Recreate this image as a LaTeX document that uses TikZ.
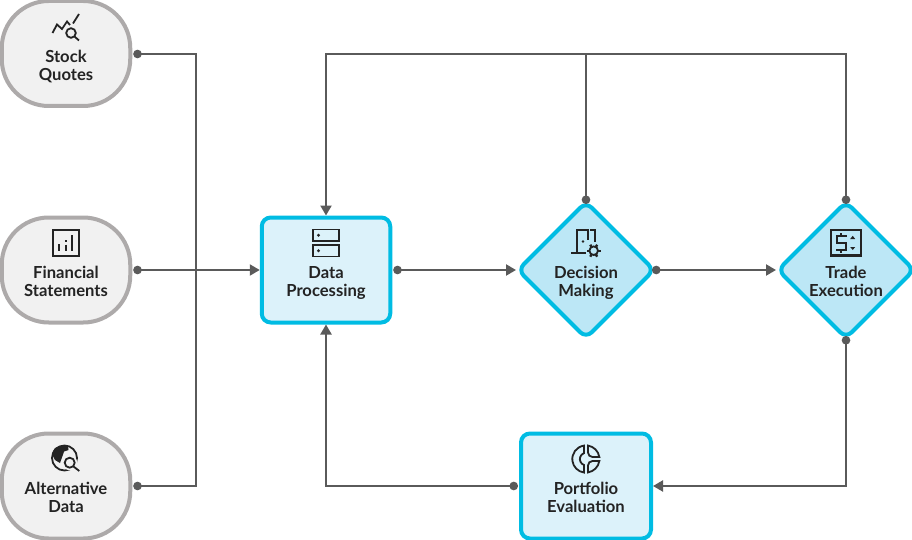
\documentclass[tikz,border=0pt]{standalone}
\usepackage{fontspec}
\setmainfont{Lato}[BoldFont={Lato Bold}]
\usetikzlibrary{arrows.meta,shapes.geometric}
\definecolor{srcfill}{HTML}{F1F1F1}
\definecolor{srcline}{HTML}{ADAAAA}
\definecolor{cyanline}{HTML}{00BCE3}
\definecolor{boxfill}{HTML}{DCF2FA}
\definecolor{diafill}{HTML}{BCE7F6}
\definecolor{flowcol}{HTML}{5A5A5A}
\definecolor{inkcol}{HTML}{232323}
\tikzset{
  srcnode/.style={rectangle,draw=srcline,fill=srcfill,line width=4pt,rounded corners=47pt,minimum width=128.5pt,minimum height=105pt,inner sep=0pt},
  boxnode/.style={rectangle,draw=cyanline,fill=boxfill,line width=4pt,rounded corners=9pt,minimum width=128.5pt,minimum height=105pt,inner sep=0pt},
  dianode/.style={diamond,aspect=1,draw=cyanline,fill=diafill,line width=4pt,rounded corners=8pt,minimum width=136pt,minimum height=136pt,inner sep=0pt,outer sep=0pt},
  lbl/.style={font=\fontsize{16.6}{18.6}\selectfont\bfseries,text=inkcol,align=center,inner sep=0pt,execute at begin node=\strut,execute at end node=\strut},
  flow/.style={draw=flowcol,line width=2.2pt,{Circle[length=8.5pt]}-{Triangle[length=10pt,width=11pt]},shorten <=1pt},
  plainflow/.style={draw=flowcol,line width=2.2pt,{Circle[length=8.5pt]}-,shorten <=1pt},
  fromdia/.style={shorten <=-2pt},
  todia/.style={shorten >=2pt},
  ico/.style={draw=inkcol,line width=1.8pt},
  icofill/.style={fill=inkcol}
}
\begin{document}
\begin{tikzpicture}[x=1pt,y=-1pt]
\useasboundingbox (0,0) rectangle (912,540);
% nodes
\node[srcnode] (stock) at (66,53.5) {};
\node[srcnode] (fin) at (66,270) {};
\node[srcnode] (alt) at (66,486) {};
\node[boxnode] (data) at (326,270) {};
\node[dianode] (dec) at (586,270) {};
\node[dianode] (trade) at (846,270) {};
\node[boxnode,minimum width=130pt] (port) at (586,486) {};
% labels
\node[lbl] (stockL) at (66,68.3) {Stock\\Quotes};
\node[lbl] (finL) at (66,284.3) {Financial\\Statements};
\node[lbl] (altL) at (66,500.3) {Alternative\\Data};
\node[lbl] (dataL) at (326,284.3) {Data\\Processing};
\node[lbl] (decL) at (586,284.3) {Decision\\Making};
\node[lbl] (tradeL) at (846,284.3) {Trade\\Execution};
\node[lbl] (portL) at (586,500.3) {Portfolio\\Evaluation};
% junctions
\coordinate (bus) at (196,270);
\coordinate (topj) at (586,54);
\coordinate (topl) at (326,54);
% connectors
\draw[plainflow] (stock.east |- 0,54) -| (bus);
\draw[plainflow] (alt.east) -| (bus);
\draw[flow] (fin.east) -- (data.west);
\draw[flow,todia] (data.east) -- (dec.west);
\draw[flow,fromdia,todia] (dec.east) -- (trade.west);
\draw[plainflow,fromdia] (dec.north) -- (topj);
\draw[flow,fromdia] (trade.north) |- (topl) -- (data.north);
\draw[flow,fromdia] (trade.south) |- (port.east);
\draw[flow] (port.west) -| (data.south);
% icon: stock
\draw[ico,line join=miter] (52.5,33) -- (57,24.5) -- (62,29) -- (67,21.5) -- (70,25);
\draw[ico] (73,23.5) -- (79,14);
\draw[ico] (71,33) circle[radius=4.8];
\draw[ico] (74.5,36.5) -- (79,40.5);
% icon: financial
\draw[ico] (53.3,229.7) rectangle (79.3,255.7);
\draw[ico] (59,244) -- (59,250.7);
\draw[ico] (65.8,240) -- (65.8,242) (65.8,244.5) -- (65.8,250.7);
\draw[ico] (72.3,235) -- (72.3,250.7);
% icon: alternative data
\draw[ico] (64.5,458) circle[radius=12.5];
\fill[inkcol] (55,448) .. controls (59,445.5) and (64,445) .. (68,446) -- (68.5,450) -- (64,451.5) -- (62.5,456) -- (60,463) -- (55,460) -- (52.5,455) .. controls (52.5,452) and (53,450) .. (55,448) -- cycle;
\fill[srcfill] (69.7,462.7) circle[radius=7.5];
\draw[ico] (69.7,462.7) circle[radius=5];
\draw[ico] (73.5,466.5) -- (79.3,471);
% icon: data
\draw[ico] (313,229.5) rectangle (339,241);
\draw[ico] (313,245) rectangle (339,256.5);
\fill[inkcol] (318.5,235.2) circle[radius=1.6] (318.5,250.7) circle[radius=1.6];
% icon: decision
\draw[ico] (571,253.3) -- (586,253.3);
\draw[ico] (577,253.3) -- (577,230) -- (588.3,230) -- (588.3,240);
\draw[ico] (590,230) -- (595,230) -- (595,242);
\fill[inkcol] (583,241.5) circle[radius=1.4];
\draw[ico] (593.7,250.7) circle[radius=4.3];
\foreach \a in {0,60,...,300} \draw[inkcol,line width=2.4pt] (593.7,250.7) ++(\a:4.3) -- ++(\a:2.6);
% icon: trade
\draw[ico,line width=2.2pt] (831,230) rectangle (861,255.5);
\draw[ico] (846.7,236) -- (836.7,236) -- (836.7,243) -- (846,243) -- (846,250) -- (836,250);
\draw[ico] (841,233) -- (841,236) (841,250) -- (841,253);
\fill[inkcol] (852.7,235.8) -- (855.2,239) -- (850.2,239) -- cycle;
\fill[inkcol] (852.7,250) -- (855.2,247) -- (850.2,247) -- cycle;
% icon: portfolio
\draw[ico] (584,445.6) arc[start angle=-98,end angle=-262,radius=13.6] -- (584,465) arc[start angle=110,end angle=250,radius=6.3] -- cycle;
\draw[ico] (588,445.6) arc[start angle=-81,end angle=-9,radius=13.6] -- (592.5,457) arc[start angle=90,end angle=180,radius=4.5] -- cycle;
\draw[ico] (588,472.4) arc[start angle=81,end angle=9,radius=13.6] -- (592.5,461) arc[start angle=-90,end angle=-180,radius=4.5] -- cycle;
\end{tikzpicture}
\end{document}
